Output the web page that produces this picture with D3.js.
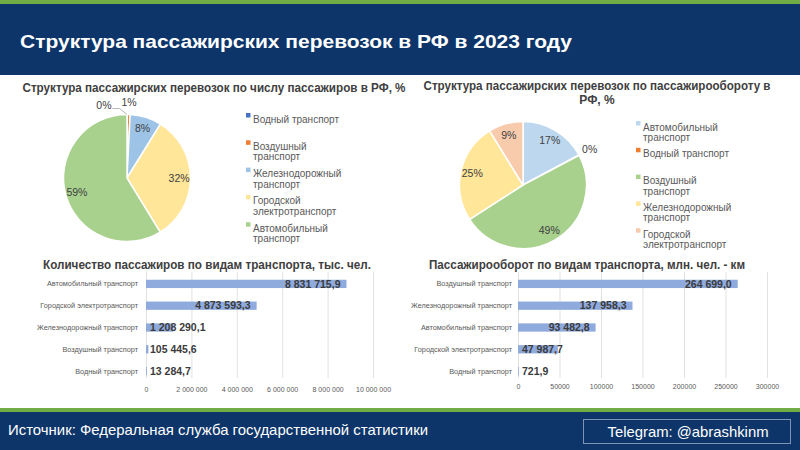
<!DOCTYPE html>
<html>
<head>
<meta charset="utf-8">
<script src="https://cdn.jsdelivr.net/npm/d3@7"></script>
<style>
  html, body { margin: 0; padding: 0; background: #ffffff; }
  svg { display: block; font-family: "Liberation Sans", Arial, sans-serif; }
</style>
</head>
<body>
<svg id="chart" width="800" height="450"></svg>
<script>
// ---------------- DATA ----------------
const mainTitle = "Структура пассажирских перевозок в РФ в 2023 году";
const sourceText = "Источник: Федеральная служба государственной статистики";
const telegramText = "Telegram: @abrashkinm";

// Passengers, thousand persons
const passCategories = ["Водный транспорт", "Воздушный транспорт", "Железнодорожный транспорт", "Городской электротранспорт", "Автомобильный транспорт"];
const passValues = [13284.7, 105445.6, 1208290.1, 4873593.3, 8831715.9];
const passPieColors = ["#4472C4", "#ED7D31", "#9DC3E6", "#FFE699", "#A9D18E"];
const passLegend = [["Водный транспорт"], ["Воздушный", "транспорт"], ["Железнодорожный", "транспорт"], ["Городской", "электротранспорт"], ["Автомобильный", "транспорт"]];

// Passenger turnover, mln passenger-km
const turnCategories = ["Автомобильный транспорт", "Водный транспорт", "Воздушный транспорт", "Железнодорожный транспорт", "Городской электротранспорт"];
const turnValues = [93482.8, 721.9, 264699.0, 137958.3, 47987.7];
const turnPieColors = ["#BDD7EE", "#ED7D31", "#A9D18E", "#FFE699", "#F8CBAD"];
const turnLegend = [["Автомобильный", "транспорт"], ["Водный транспорт"], ["Воздушный", "транспорт"], ["Железнодорожный", "транспорт"], ["Городской", "электротранспорт"]];

// Bar chart orders (top to bottom)
const passBarCategories = ["Автомобильный транспорт", "Городской электротранспорт", "Железнодорожный транспорт", "Воздушный транспорт", "Водный транспорт"];
const passBarValues = [8831715.9, 4873593.3, 1208290.1, 105445.6, 13284.7];
const passTicks = [0, 2000000, 4000000, 6000000, 8000000, 10000000];

const turnBarCategories = ["Воздушный транспорт", "Железнодорожный транспорт", "Автомобильный транспорт", "Городской электротранспорт", "Водный транспорт"];
const turnBarValues = [264699.0, 137958.3, 93482.8, 47987.7, 721.9];
const turnTicks = [0, 50000, 100000, 150000, 200000, 250000, 300000];

const pieTitle1 = ["Структура пассажирских перевозок по числу пассажиров в РФ, %"];
const pieTitle2 = ["Структура пассажирских перевозок по пассажирообороту в", "РФ, %"];
const barTitle1 = "Количество пассажиров по видам транспорта, тыс. чел.";
const barTitle2 = "Пассажирооборот по видам транспорта, млн. чел. - км";

// ---------------- STYLE ----------------
const navy = "#0D3569";
const green = "#70AD47";
const textDark = "#404040";
const textGray = "#595959";
const barColor = "#8FAADC";

const ru = d3.formatLocale({decimal: ",", thousands: " ", grouping: [3], currency: ["", ""]});
const fmtVal = ru.format(",.1f");
const fmtBig = ru.format(",");
const fmtPlain = d3.format("d");

const svg = d3.select("#chart");

// ---------------- HEADER ----------------
svg.append("rect").attr("x", 0).attr("y", 0).attr("width", 800).attr("height", 75).attr("fill", navy);
svg.append("rect").attr("x", 0).attr("y", 0).attr("width", 800).attr("height", 4).attr("fill", green);
svg.append("text").attr("x", 20).attr("y", 48)
  .attr("fill", "#ffffff").attr("font-size", 19).attr("font-weight", "bold")
  .attr("textLength", 552).attr("lengthAdjust", "spacingAndGlyphs")
  .text(mainTitle);

// ---------------- FOOTER ----------------
svg.append("rect").attr("x", 0).attr("y", 408).attr("width", 800).attr("height", 42).attr("fill", navy);
svg.append("rect").attr("x", 0).attr("y", 408).attr("width", 800).attr("height", 4).attr("fill", green);
svg.append("text").attr("x", 8).attr("y", 435)
  .attr("fill", "#ffffff").attr("font-size", 14.5)
  .attr("textLength", 420).attr("lengthAdjust", "spacingAndGlyphs")
  .text(sourceText);
svg.append("rect").attr("x", 583.5).attr("y", 419.5).attr("width", 207).attr("height", 24)
  .attr("fill", "none").attr("stroke", "#7F93B3").attr("stroke-width", 1);
svg.append("text").attr("x", 688).attr("y", 437).attr("text-anchor", "middle")
  .attr("fill", "#ffffff").attr("font-size", 15)
  .attr("textLength", 161).attr("lengthAdjust", "spacingAndGlyphs")
  .text(telegramText);

// ---------------- PIE CHARTS ----------------
function drawPie(cfg) {
  const g = svg.append("g");
  // title
  cfg.title.forEach((t, i) => {
    const tt = g.append("text").attr("x", cfg.titleX).attr("y", cfg.titleY + i * 14)
      .attr("text-anchor", "middle").attr("font-size", 12).attr("font-weight", "bold")
      .attr("fill", textDark).text(t);
    if (cfg.titleLen[i]) tt.attr("textLength", cfg.titleLen[i]).attr("lengthAdjust", "spacingAndGlyphs");
  });
  const total = d3.sum(cfg.values);
  const pie = d3.pie().sort(null).value(d => d)(cfg.values);
  const arc = d3.arc().innerRadius(0).outerRadius(cfg.r);
  const pg = g.append("g").attr("transform", `translate(${cfg.cx},${cfg.cy})`);
  pg.selectAll("path").data(pie).join("path")
    .attr("d", arc).attr("fill", (d, i) => cfg.colors[i])
    .attr("stroke", "#ffffff").attr("stroke-width", 1.5).attr("stroke-linejoin", "round");

  // labels
  const labels = pie.map((d, i) => {
    const pct = Math.round(d.data / total * 100);
    const share = d.data / total;
    const mid = (d.startAngle + d.endAngle) / 2;
    const inside = share > 0.02;
    const rr = inside ? cfg.r * 0.82 : cfg.r + 12;
    return {i, text: pct + "%", mid, inside, x: Math.sin(mid) * rr, y: -Math.cos(mid) * rr};
  });
  const lblSel = pg.selectAll("text.lbl").data(labels).join("text")
    .attr("class", "lbl")
    .attr("x", d => d.x).attr("y", d => d.y).attr("dy", "0.35em")
    .attr("text-anchor", "middle").attr("font-size", 10.5).attr("fill", textDark)
    .text(d => d.text);
  // measure & resolve collisions among outside labels
  lblSel.each(function(d) { d.w = this.getComputedTextLength(); });
  const outs = labels.filter(d => !d.inside);
  for (let k = outs.length - 2; k >= 0; k--) {
    const a = outs[k], b = outs[k + 1];
    if (Math.abs(a.x - b.x) < (a.w + b.w) / 2 + 2 && Math.abs(a.y - b.y) < 11) {
      const newRight = b.x - b.w / 2 - 10;
      a.x = newRight - a.w / 2;
      a.y = b.y + 3;
      a.leader = true;
    }
  }
  lblSel.attr("x", d => d.x).attr("y", d => d.y);
  outs.filter(d => d.leader).forEach(d => {
    const ex = Math.sin(d.mid) * cfg.r, ey = -Math.cos(d.mid) * cfg.r;
    pg.append("polyline")
      .attr("points", `${d.x + d.w / 2 + 1},${d.y + 3} ${d.x + d.w / 2 + 8},${d.y + 3} ${ex},${ey}`)
      .attr("fill", "none").attr("stroke", "#A6A6A6").attr("stroke-width", 0.8);
  });

  // legend
  const lg = g.append("g");
  cfg.legend.forEach((lines, i) => {
    const y0 = cfg.legY + i * cfg.legStep;
    const midY = y0 + (lines.length - 1) * 5 - 3.5;
    lg.append("rect").attr("x", cfg.legX - 7).attr("y", midY - 2.5 + (lines.length > 1 ? -5 : 0))
      .attr("width", 4.5).attr("height", 4.5).attr("fill", cfg.colors[i]);
    lines.forEach((ln, j) => {
      lg.append("text").attr("x", cfg.legX).attr("y", y0 + j * 10.5 + 3.5)
        .attr("font-size", 10).attr("fill", textGray).text(ln);
    });
  });
}

drawPie({
  title: pieTitle1, titleX: 214, titleY: 92, titleLen: [383],
  values: passValues, colors: passPieColors, legend: passLegend,
  cx: 127, cy: 178, r: 63.5,
  legX: 253, legY: 119, legStep: 27.3
});
drawPie({
  title: pieTitle2, titleX: 597, titleY: 90, titleLen: [347, 0],
  values: turnValues, colors: turnPieColors, legend: turnLegend,
  cx: 523, cy: 185, r: 63.5,
  legX: 643, legY: 127, legStep: 26.8
});

// ---------------- BAR CHARTS ----------------
function drawBars(cfg) {
  const g = svg.append("g");
  g.append("text").attr("x", cfg.titleX).attr("y", cfg.titleY)
    .attr("text-anchor", "middle").attr("font-size", 12).attr("font-weight", "bold")
    .attr("fill", textDark).attr("textLength", cfg.titleLen).attr("lengthAdjust", "spacingAndGlyphs")
    .text(cfg.title);

  const x = d3.scaleLinear().domain([0, cfg.ticks[cfg.ticks.length - 1]]).range([cfg.x0, cfg.x1]);
  const y = d3.scaleBand().domain(cfg.categories).range([cfg.y0, cfg.y1]).paddingInner(0.62).paddingOuter(0.31);

  // grid + axis
  const axis = d3.axisBottom(x).tickValues(cfg.ticks).tickFormat(cfg.tickFmt)
    .tickSizeInner(-(cfg.gridBottom - cfg.gridTop)).tickSizeOuter(0).tickPadding(cfg.tickPad);
  const ag = g.append("g").attr("transform", `translate(0,${cfg.gridBottom})`).call(axis);
  ag.select(".domain").remove();
  ag.selectAll(".tick line").attr("stroke", "#D9D9D9").attr("stroke-width", 0.8);
  ag.selectAll(".tick text").attr("fill", textGray).attr("font-size", 7)
    .attr("font-family", "\"Liberation Sans\", Arial, sans-serif");

  // category labels
  g.selectAll("text.cat").data(cfg.categories).join("text").attr("class", "cat")
    .attr("x", cfg.x0 - cfg.catGap).attr("y", d => y(d) + y.bandwidth() / 2).attr("dy", "0.35em")
    .attr("text-anchor", "end").attr("font-size", 7.3).attr("fill", textGray).text(d => d);

  // bars
  const data = cfg.categories.map((c, i) => ({c, v: cfg.values[i]}));
  g.selectAll("rect.bar").data(data).join("rect").attr("class", "bar")
    .attr("x", x(0)).attr("y", d => y(d.c)).attr("height", y.bandwidth())
    .attr("width", d => Math.max(0.8, x(d.v) - x(0))).attr("fill", barColor);

  // value labels
  const vl = g.selectAll("text.val").data(data).join("text").attr("class", "val")
    .attr("y", d => y(d.c) + y.bandwidth() / 2).attr("dy", "0.36em")
    .attr("text-anchor", "end").attr("font-size", 10.5).attr("font-weight", "bold")
    .attr("fill", "#3B3B3B").text(d => fmtVal(d.v));
  vl.each(function(d) {
    const w = this.getComputedTextLength();
    const xe = Math.max(x(d.v) - 6, x(0) + 4 + w);
    d3.select(this).attr("x", xe);
  });
}

drawBars({
  title: barTitle1, titleX: 207, titleY: 269, titleLen: 328,
  categories: passBarCategories, values: passBarValues, ticks: passTicks,
  tickFmt: d => fmtBig(d), x0: 146, x1: 373, y0: 273, y1: 382,
  gridTop: 272, gridBottom: 378, tickPad: 9, catGap: 8
});
drawBars({
  title: barTitle2, titleX: 587, titleY: 269, titleLen: 316,
  categories: turnBarCategories, values: turnBarValues, ticks: turnTicks,
  tickFmt: d => fmtPlain(d), x0: 518, x1: 767, y0: 273, y1: 382,
  gridTop: 272, gridBottom: 378, tickPad: 6, catGap: 6
});
</script>
</body>
</html>
